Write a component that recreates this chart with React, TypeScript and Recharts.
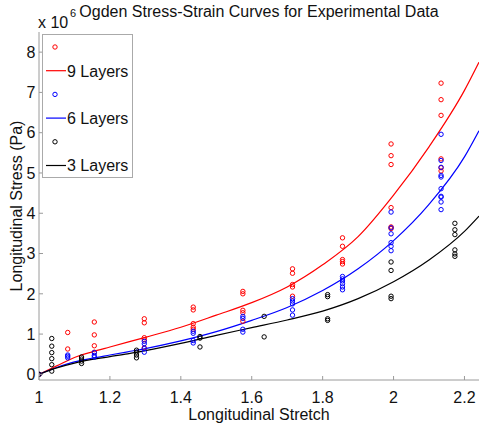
import { ComposedChart, Line, Scatter, XAxis, YAxis, Legend } from "recharts";

const FONT = "'Liberation Sans', Arial, Helvetica, sans-serif";
const AXIS = "#9a9a9a";
const RED = "#ff0000";
const BLUE = "#0000ff";
const BLACK = "#000000";

// measured stress (x 10^6 Pa) grouped by stretch level
const stretch9 = [1, 1.081, 1.156, 1.297, 1.435, 1.575, 1.715, 1.856, 1.993, 2.134];
const stress9 = [
  [0],
  [1.04, 0.63],
  [1.3, 0.98, 0.71, 0.55],
  [1.38, 1.28, 0.91, 0.86, 0.66],
  [1.67, 1.6, 1.26, 1.17, 1.12],
  [2.06, 2.0, 1.59, 1.53, 1.32],
  [2.62, 2.51, 2.23, 2.17, 1.94],
  [3.39, 3.18, 2.85, 2.8, 2.74],
  [5.72, 5.43, 5.21, 4.14, 3.66, 3.62],
  [7.23, 6.82, 6.43, 5.35, 5.13, 5.05],
];

const stretch6 = [1, 1.081, 1.156, 1.297, 1.435, 1.575, 1.715, 1.856, 1.993, 2.134];
const stress6 = [
  [0],
  [0.48, 0.45, 0.41],
  [0.54, 0.47, 0.43],
  [0.82, 0.76, 0.64, 0.55],
  [1.07, 1.02, 0.84, 0.78],
  [1.44, 1.39, 1.12, 1.05],
  [1.88, 1.82, 1.75, 1.6, 1.47],
  [2.43, 2.37, 2.32, 2.25, 2.17, 2.1],
  [4.03, 3.64, 3.49, 3.27, 3.18, 3.07],
  [5.96, 5.31, 5.14, 4.94, 4.9, 4.61, 4.42, 4.4, 4.28, 4.09],
];

const stretch3 = [1, 1.036, 1.12, 1.275, 1.454, 1.635, 1.814, 1.993, 2.173];
const stress3 = [
  [0],
  [0.89, 0.7, 0.54, 0.39, 0.24, 0.08],
  [0.43, 0.38, 0.33, 0.27],
  [0.6, 0.55, 0.48, 0.41],
  [0.94, 0.9, 0.68],
  [1.44, 0.93],
  [1.98, 1.93, 1.38, 1.34],
  [2.79, 2.58, 1.94, 1.88],
  [3.75, 3.59, 3.47, 3.09, 2.99, 2.93],
];

// Ogden fit curves
const fitStretch = [1, 1.05, 1.1, 1.15, 1.2, 1.25, 1.3, 1.4, 1.5, 1.6, 1.7, 1.8, 1.9, 2.0, 2.1, 2.2, 2.241];
const fit9 = [0, 0.21, 0.42, 0.56, 0.68, 0.8, 0.92, 1.17, 1.47, 1.78, 2.17, 2.72, 3.42, 4.45, 5.65, 7.05, 7.75];
const fit6 = [0, 0.17, 0.31, 0.4, 0.48, 0.56, 0.64, 0.83, 1.06, 1.34, 1.66, 2.08, 2.62, 3.32, 4.22, 5.4, 6.05];
const fit3 = [0, 0.16, 0.28, 0.37, 0.44, 0.51, 0.59, 0.77, 0.97, 1.16, 1.35, 1.57, 1.88, 2.3, 2.84, 3.55, 3.93];

const xTicks = [1, 1.2, 1.4, 1.6, 1.8, 2, 2.2];
const yTicks = [0, 1, 2, 3, 4, 5, 6, 7, 8];

const toPoints = (xs: number[], ys: number[][]) =>
  xs.flatMap((x, i) => ys[i].map((y) => ({ x, y })));
const toCurve = (ys: number[]) => fitStretch.map((x, i) => ({ x, y: ys[i] }));

const legendRows = [
  { color: RED, kind: "marker", label: "" },
  { color: RED, kind: "line", label: "9 Layers" },
  { color: BLUE, kind: "marker", label: "" },
  { color: BLUE, kind: "line", label: "6 Layers" },
  { color: BLACK, kind: "marker", label: "" },
  { color: BLACK, kind: "line", label: "3 Layers" },
];

const ring = (color: string) => (props: any) => (
  <circle cx={props.cx} cy={props.cy} r={2.2} fill="none" stroke={color} strokeWidth={1} />
);

const XTick = ({ x, y, payload }: any) => (
  <g>
    <line x1={x} x2={x} y1={y} y2={y - 4} stroke={AXIS} />
    <text x={x} y={y + 22.5} textAnchor="middle" fontSize={16} fontFamily={FONT} fill="#111">
      {String(payload.value)}
    </text>
  </g>
);

const YTick = ({ x, y, payload }: any) => (
  <g>
    <line x1={x} x2={x + 4} y1={y} y2={y} stroke={AXIS} />
    <text x={x - 3.5} y={y + 5.8} textAnchor="end" fontSize={16} fontFamily={FONT} fill="#111">
      {String(payload.value)}
    </text>
  </g>
);

const LegendBox = () => (
  <div style={{ width: 91, height: 144, border: "1px solid #aaa", background: "#fff", boxSizing: "border-box" }}>
    <svg width={89} height={142} style={{ display: "block" }}>
      {legendRows.map((r, i) => {
        const cy = 12 + i * 23.7;
        return r.kind === "marker" ? (
          <circle key={i} cx={12} cy={cy} r={2.2} fill="none" stroke={r.color} strokeWidth={1} />
        ) : (
          <g key={i}>
            <line x1={3} x2={23} y1={cy} y2={cy} stroke={r.color} strokeWidth={1.2} />
            <text x={24} y={cy + 5.8} fontSize={16} fontFamily={FONT} fill="#111">
              {r.label}
            </text>
          </g>
        );
      })}
    </svg>
  </div>
);

export default function App() {
  return (
    <div style={{ position: "absolute", left: 0, top: 0, width: 479, height: 430, background: "#fff" }}>
      <ComposedChart width={479} height={430} margin={{ top: 32, right: 0, bottom: 0, left: 0 }}>
        <XAxis
          type="number"
          dataKey="x"
          domain={[1, 2.241]}
          ticks={xTicks}
          allowDataOverflow
          height={50}
          tickSize={0}
          tickMargin={0}
          tick={<XTick />}
          axisLine={{ stroke: AXIS }}
        />
        <YAxis
          type="number"
          dataKey="y"
          domain={[-0.14, 8.5]}
          ticks={yTicks}
          allowDataOverflow
          width={39}
          tickSize={0}
          tickMargin={0}
          tick={<YTick />}
          axisLine={{ stroke: AXIS }}
        />
        <Legend
          layout="vertical"
          align="center"
          verticalAlign="middle"
          width={91}
          height={144}
          wrapperStyle={{ left: 42, top: 34, width: 91, height: 144 }}
          content={() => <LegendBox />}
        />
        <Scatter data={toPoints(stretch9, stress9)} shape={ring(RED)} isAnimationActive={false} />
        <Scatter data={toPoints(stretch6, stress6)} shape={ring(BLUE)} isAnimationActive={false} />
        <Scatter data={toPoints(stretch3, stress3)} shape={ring(BLACK)} isAnimationActive={false} />
        <Line data={toCurve(fit9)} dataKey="y" type="monotone" stroke={RED} strokeWidth={1.2} dot={false} isAnimationActive={false} />
        <Line data={toCurve(fit6)} dataKey="y" type="monotone" stroke={BLUE} strokeWidth={1.2} dot={false} isAnimationActive={false} />
        <Line data={toCurve(fit3)} dataKey="y" type="monotone" stroke={BLACK} strokeWidth={1.2} dot={false} isAnimationActive={false} />
      </ComposedChart>
      <svg width={479} height={430} style={{ position: "absolute", left: 0, top: 0, pointerEvents: "none" }}>
        <text x={259} y={16.7} textAnchor="middle" fontSize={16} fontFamily={FONT} fill="#111">
          Ogden Stress-Strain Curves for Experimental Data
        </text>
        <text x={38} y={28} fontSize={16} fontFamily={FONT} fill="#111">
          x 10
        </text>
        <text x={70} y={16.5} fontSize={11} fontFamily={FONT} fill="#111">
          6
        </text>
        <text x={259} y={420} textAnchor="middle" fontSize={16} fontFamily={FONT} fill="#111">
          Longitudinal Stretch
        </text>
        <text
          x={21.5}
          y={206}
          textAnchor="middle"
          fontSize={16}
          fontFamily={FONT}
          fill="#111"
          transform="rotate(-90 21.5 206)"
        >
          Longitudinal Stress (Pa)
        </text>
      </svg>
    </div>
  );
}
